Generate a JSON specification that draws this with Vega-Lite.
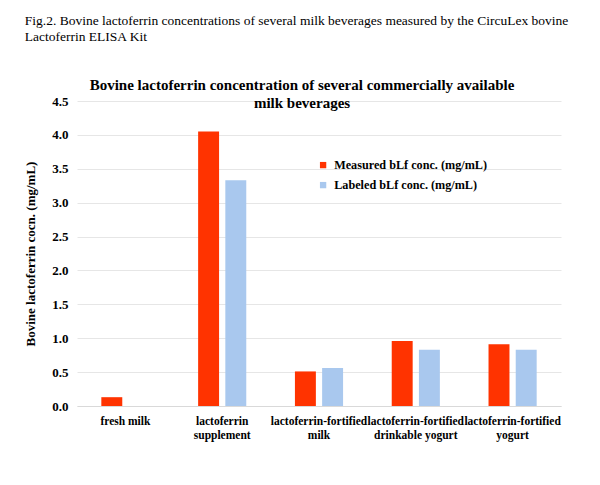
{
  "$schema": "https://vega.github.io/schema/vega-lite/v6.json",
  "background": "white",
  "padding": {"left": 24, "top": 13, "right": 5, "bottom": 5},
  "config": {"font": "Liberation Serif", "view": {"stroke": null}},
  "title": {
    "text": ["Fig.2. Bovine lactoferrin concentrations of several milk beverages measured by the CircuLex bovine", "Lactoferrin ELISA Kit"],
    "anchor": "start",
    "font": "Liberation Serif",
    "fontSize": 13.5,
    "fontWeight": "normal",
    "lineHeight": 16,
    "color": "#000000",
    "offset": 35
  },
  "vconcat": [
    {
      "width": 484,
      "height": 305,
      "title": {
        "text": ["Bovine lactoferrin  concentration  of several  commercially  available", "milk beverages"],
        "anchor": "middle",
        "font": "Liberation Serif",
        "fontSize": 15,
        "fontWeight": "bold",
        "lineHeight": 18,
        "color": "#000000",
        "offset": -16,
        "dx": -17
      },
      "data": {
        "values": [
          {"beverage": "fresh milk", "series": "Measured bLf conc. (mg/mL)", "value": 0.13},
          {"beverage": "lactoferrin supplement", "series": "Measured bLf conc. (mg/mL)", "value": 4.05},
          {"beverage": "lactoferrin supplement", "series": "Labeled bLf conc. (mg/mL)", "value": 3.33},
          {"beverage": "lactoferrin-fortified milk", "series": "Measured bLf conc. (mg/mL)", "value": 0.51},
          {"beverage": "lactoferrin-fortified milk", "series": "Labeled bLf conc. (mg/mL)", "value": 0.56},
          {"beverage": "lactoferrin-fortified drinkable yogurt", "series": "Measured bLf conc. (mg/mL)", "value": 0.96},
          {"beverage": "lactoferrin-fortified drinkable yogurt", "series": "Labeled bLf conc. (mg/mL)", "value": 0.83},
          {"beverage": "lactoferrin-fortified yogurt", "series": "Measured bLf conc. (mg/mL)", "value": 0.91},
          {"beverage": "lactoferrin-fortified yogurt", "series": "Labeled bLf conc. (mg/mL)", "value": 0.83}
        ]
      },
      "mark": {"type": "bar"},
      "encoding": {
        "x": {
          "field": "beverage",
          "type": "nominal",
          "sort": ["fresh milk", "lactoferrin supplement", "lactoferrin-fortified milk", "lactoferrin-fortified drinkable yogurt", "lactoferrin-fortified yogurt"],
          "scale": {"paddingInner": 0.438, "paddingOuter": 0.219},
          "axis": {
            "title": null,
            "labelAngle": 0,
            "labelFont": "Liberation Serif",
            "labelFontSize": 11.5,
            "labelFontWeight": "bold",
            "labelColor": "#000000",
            "labelPadding": 9,
            "labelLineHeight": 14,
            "labelOverlap": false,
            "labelBound": false,
            "labelLimit": 200,
            "labelExpr": "datum.value == 'fresh milk' ? datum.value : [substring(datum.value, 0, indexof(datum.value, ' ')), substring(datum.value, indexof(datum.value, ' ') + 1)]",
            "ticks": false,
            "tickSize": 0,
            "domainColor": "#d9d9d9",
            "domainWidth": 1,
            "grid": false
          }
        },
        "xOffset": {
          "field": "series",
          "type": "nominal",
          "sort": ["Measured bLf conc. (mg/mL)", "Labeled bLf conc. (mg/mL)"],
          "scale": {"paddingInner": 0.23, "paddingOuter": 0.115}
        },
        "y": {
          "field": "value",
          "type": "quantitative",
          "scale": {"domain": [0, 4.5], "nice": false},
          "axis": {
            "title": "Bovine lactoferrin cocn. (mg/mL)",
            "titleFont": "Liberation Serif",
            "titleFontSize": 13,
            "titleFontWeight": "bold",
            "titleColor": "#000000",
            "titlePadding": 14,
            "values": [0, 0.5, 1, 1.5, 2, 2.5, 3, 3.5, 4, 4.5],
            "format": ".1f",
            "labelFont": "Liberation Serif",
            "labelFontSize": 13,
            "labelFontWeight": "bold",
            "labelColor": "#000000",
            "labelPadding": 9,
            "ticks": false,
            "tickSize": 0,
            "domain": false,
            "gridColor": "#e6e6e6",
            "gridWidth": 1
          }
        },
        "color": {
          "field": "series",
          "type": "nominal",
          "scale": {
            "domain": ["Measured bLf conc. (mg/mL)", "Labeled bLf conc. (mg/mL)"],
            "range": ["#ff3300", "#a9c8ee"]
          },
          "legend": {
            "title": null,
            "orient": "none",
            "legendX": 240,
            "legendY": 58,
            "symbolType": "square",
            "symbolSize": 40,
            "symbolStrokeWidth": 0,
            "labelFont": "Liberation Serif",
            "labelFontSize": 12.2,
            "labelFontWeight": "bold",
            "labelColor": "#000000",
            "labelLimit": 300,
            "rowPadding": 7,
            "labelOffset": 5
          }
        }
      }
    }
  ]
}
